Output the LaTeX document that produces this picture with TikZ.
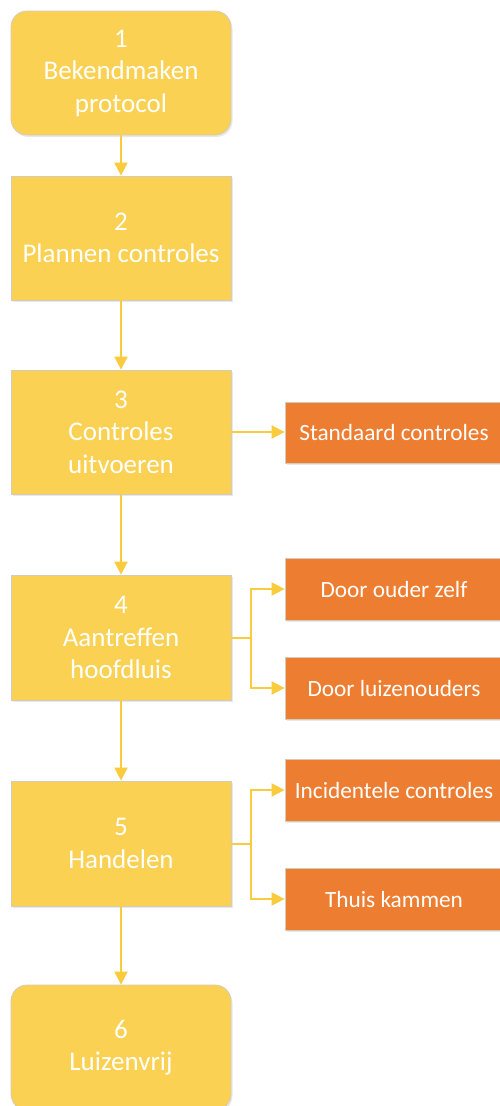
\documentclass[tikz,border=0pt]{standalone}
\usepackage{fontspec}
\setmainfont{Carlito}
\usetikzlibrary{arrows.meta,shadows}
\definecolor{ylw}{HTML}{FAD152}
\definecolor{ylwline}{HTML}{FBCB3E}
\definecolor{org}{HTML}{ED7D31}
\definecolor{edge}{HTML}{D4CCB8}
\tikzset{
  stepbox/.style={draw=edge, line width=0.8pt, fill=ylw, minimum width=220pt, minimum height=124pt,
    inner sep=0pt, align=center, text=white, font=\fontsize{27}{32.5}\selectfont,
    drop shadow={opacity=0.18, shadow xshift=1.5pt, shadow yshift=-2pt}},
  roundbox/.style={stepbox, rounded corners=16pt},
  subbox/.style={draw=edge, line width=0.8pt, fill=org, minimum width=218pt, minimum height=62pt,
    inner sep=0pt, align=center, text=white, font=\fontsize{23.3}{28}\selectfont,
    drop shadow={opacity=0.18, shadow xshift=1.5pt, shadow yshift=-2pt}},
  conn/.style={draw=ylwline, line width=2pt, -{Triangle[width=13pt,length=13pt]}}
}
\begin{document}
\begin{tikzpicture}[x=1pt,y=-1pt]
\useasboundingbox (0,0) rectangle (499,1106);
\node[roundbox] (b1) at (121,73) {1\\Bekendmaken\\protocol};
\node[stepbox] (b2) at (121,238) {2\\Plannen controles};
\node[stepbox] (b3) at (121,432) {3\\Controles\\uitvoeren};
\node[stepbox, minimum height=125pt] (b4) at (121,637.5) {4\\Aantreffen\\hoofdluis};
\node[stepbox, minimum height=125pt] (b5) at (121,843.5) {5\\Handelen};
\node[roundbox, minimum height=125pt] (b6) at (121,1047.5) {6\\Luizenvrij};
\node[subbox, minimum height=61pt] (s3) at (394,432.5) {Standaard controles};
\node[subbox] (s4a) at (394,589) {Door ouder zelf};
\node[subbox] (s4b) at (394,688) {Door luizenouders};
\node[subbox] (s5a) at (394,790) {Incidentele controles};
\node[subbox] (s5b) at (394,899) {Thuis kammen};
\coordinate (j4) at (251,637.5);
\coordinate (j5) at (251,843.5);
\draw[conn] (b1) -- (b2);
\draw[conn] (b2) -- (b3);
\draw[conn] (b3) -- (b4);
\draw[conn] (b4) -- (b5);
\draw[conn] (b5) -- (b6);
\draw[conn] (b3.east) -- (b3.east -| s3.west);
\draw[conn] (b4.east) -- (j4) |- (s4a.west);
\draw[conn] (b4.east) -- (j4) |- (s4b.west);
\draw[conn] (b5.east) -- (j5) |- (s5a.west);
\draw[conn] (b5.east) -- (j5) |- (s5b.west);
\end{tikzpicture}
\end{document}
